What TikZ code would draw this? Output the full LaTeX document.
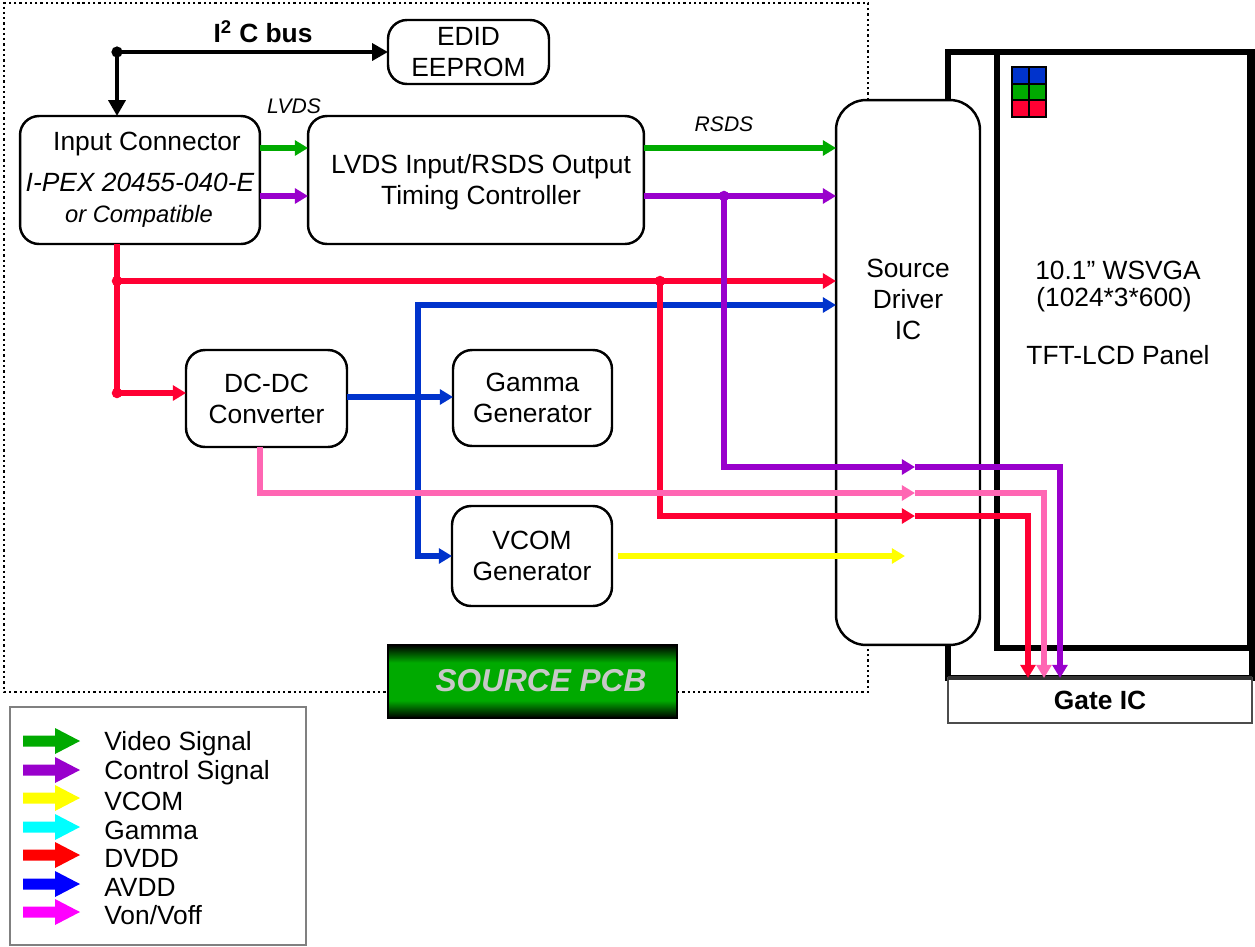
\documentclass[tikz,border=0pt]{standalone}
\usepackage{fontspec}
\setmainfont{Liberation Sans}
\usetikzlibrary{arrows.meta}
\definecolor{cgreen}{RGB}{0,170,0}
\definecolor{cpurple}{RGB}{153,0,204}
\definecolor{cred}{RGB}{255,0,51}
\definecolor{cblue}{RGB}{0,51,204}
\definecolor{cpink}{RGB}{255,102,179}
\definecolor{cyellow}{RGB}{255,255,0}
\definecolor{lgreen}{RGB}{0,170,0}
\definecolor{lpurple}{RGB}{153,0,204}
\definecolor{lyellow}{RGB}{255,255,0}
\definecolor{lcyan}{RGB}{0,255,255}
\definecolor{lred}{RGB}{255,0,0}
\definecolor{lblue}{RGB}{0,0,255}
\definecolor{lmagenta}{RGB}{255,0,255}
\definecolor{pcbgreen}{RGB}{0,170,0}
\definecolor{pcbtext}{RGB}{200,200,200}
\pgfdeclareverticalshading{pcbshade}{100bp}{color(0bp)=(black); color(25bp)=(black); color(37bp)=(pcbgreen); color(63bp)=(pcbgreen); color(75bp)=(black); color(100bp)=(black)}
\newcommand\mainfs{\fontsize{15}{17.6}\selectfont}
\newcommand\smallfs{\fontsize{12}{14}\selectfont}
\tikzset{
  box/.style={draw, line width=1.4pt, rounded corners=0.38cm, fill=white, align=center, font=\mainfs, inner sep=0pt, outer sep=0pt},
  txt/.style={font=\mainfs, align=center, inner sep=0pt},
  wire/.style={line width=3.2pt},
  fatw/.style={line width=3.8pt},
  arr/.style={-{Triangle[length=7.5pt,width=8.5pt]}},
  arrs/.style={{Triangle[length=7.5pt,width=8.5pt]}-{Triangle[length=7.5pt,width=8.5pt]}},
  blk/.style={line width=2.4pt, -{Triangle[length=9pt,width=9.5pt]}},
  dotframe/.style={line width=1.3pt, dash pattern=on 1.3pt off 1.7pt},
  thickframe/.style={line width=2.9pt},
}
\begin{document}
\begin{tikzpicture}[x=0.02cm,y=-0.02cm]
\useasboundingbox (0,0) rectangle (1255,947);
\fill[white] (0,0) rectangle (1255,947);

% dotted source PCB frame
\draw[dotframe] (868,100) -- (868,3) -- (4,3) -- (4,692) -- (388,692);
\draw[dotframe] (677,692) -- (868,692) -- (868,645);

% panel frames
\draw[thickframe] (948,52) rectangle (1252,678);
\draw[thickframe] (997,52) rectangle (1250,648);

% RGB pixel
\fill[cblue] (1012,67) rectangle (1046,84);
\fill[cgreen] (1012,84) rectangle (1046,100);
\fill[cred] (1012,100) rectangle (1046,117);
\draw[line width=1.6pt] (1012,67) rectangle (1046,117) (1029,67) -- (1029,117) (1012,84) -- (1046,84) (1012,100) -- (1046,100);

% panel texts
\node[txt] (p1) at (1118,270) {10.1” WSVGA};
\node[txt] (p2) at (1114,300) {(1024*3*600)};
\node[txt] (p3) at (1118,355) {TFT-LCD Panel};

% gate IC
\node[draw=gray!60!black, line width=1.3pt, fill=white, minimum width=6.08cm, minimum height=0.9cm, inner sep=0pt, outer sep=0pt, font=\mainfs\bfseries] (gate) at (1100,700.5) {Gate IC};
\draw[line width=2.2pt, black!80] (948,678) -- (1252,678);

% source driver
\node[box, rounded corners=0.6cm, minimum width=2.88cm, minimum height=10.9cm] (src) at (908,372.5) {};
\node[txt] (srct) at (908,299) {Source\\Driver\\IC};

% boxes
\node[box, minimum width=3.22cm, minimum height=1.28cm] (edid) at (468.5,52) {EDID\\EEPROM};
\node[box, minimum width=4.8cm, minimum height=2.56cm] (inconn) at (140,180) {};
\node[txt] (ic1) at (147,144) {Input Connector};
\node[txt, font=\mainfs\itshape] (ic2) at (140,182) {I-PEX 20455-040-E};
\node[txt, font=\fontsize{13.5}{16}\selectfont\itshape] (ic3) at (139,216) {or Compatible};
\node[box, minimum width=6.72cm, minimum height=2.56cm] (tcon) at (476,180) {};
\node[txt] (tcont) at (481,182.5) {LVDS Input/RSDS Output\\Timing Controller};
\node[box, minimum width=3.22cm, minimum height=1.94cm] (dcdc) at (266.5,398.5) {DC-DC\\Converter};
\node[box, minimum width=3.18cm, minimum height=1.92cm] (gamma) at (532.5,398) {Gamma\\Generator};
\node[box, minimum width=3.2cm, minimum height=2.0cm] (vcom) at (532,556) {VCOM\\Generator};

% labels
\node[txt, font=\mainfs\bfseries] (i2c) at (263,32) {I\textsuperscript{2} C bus};
\node[txt, font=\smallfs\itshape] (lvds) at (294,106) {LVDS};
\node[txt, font=\smallfs\itshape] (rsds) at (724,124) {RSDS};

% I2C bus
\coordinate (i2cj) at (117,52);
\draw[blk] (i2cj) -- (edid.west);
\draw[blk] (i2cj) -- (inconn.north -| i2cj);
\fill (i2cj) circle[radius=3.2pt];

% blue AVDD
\coordinate (bj) at (418,305);
\draw[wire,arr,cblue] (dcdc.east |- 0,397) -- (gamma.west |- 0,397);
\draw[wire,arrs,cblue] (vcom.west |- 0,556) -- (bj |- 0,556) -- (bj) -- (src.west |- bj);

% red DVDD
\coordinate (rj1) at (117,281);
\coordinate (rj2) at (117,393);
\coordinate (rj3) at (660,281);
\coordinate (re) at (915,516);
\draw[wire,cred] (inconn.south -| rj1) -- (rj2);
\draw[wire,arr,cred] (rj2) -- (dcdc.west |- rj2);
\draw[wire,arr,cred] (rj1) -- (src.west |- rj1);
\draw[wire,arr,cred] (rj3) -- (rj3 |- re) -- (re);
\draw[fatw,arr,cred] (re) -- (1028,516) -- (gate.north -| 1028,0);

% pink Von/Voff
\coordinate (ke) at (915,493);
\draw[wire,arr,cpink] (dcdc.south -| 260,0) -- (260,493) -- (ke);
\draw[fatw,arr,cpink] (ke) -- (1044,493) -- (gate.north -| 1044,0);

% green video
\draw[wire,arr,cgreen] (inconn.east |- 0,148) -- (tcon.west |- 0,148);
\draw[wire,arr,cgreen] (tcon.east |- 0,148) -- (src.west |- 0,148);

% purple control
\coordinate (pj) at (724,196);
\coordinate (pe) at (915,467);
\draw[wire,arr,cpurple] (inconn.east |- 0,196) -- (tcon.west |- 0,196);
\draw[wire,arr,cpurple] (tcon.east |- 0,196) -- (src.west |- 0,196);
\draw[wire,arr,cpurple] (pj) -- (pj |- pe) -- (pe);
\draw[fatw,arr,cpurple] (pe) -- (1060,467) -- (gate.north -| 1060,0);

% yellow VCOM
\coordinate (ye) at (905,556);
\draw[wire,arr,cyellow,shorten <=3.4pt] (vcom.east |- 0,556) -- (ye);

% junction dots
\fill[cred] (rj1) circle[radius=3pt];
\fill[cred] (rj2) circle[radius=3pt];
\fill[cred] (rj3) circle[radius=3pt];
\fill[cpurple] (pj) circle[radius=3pt];

% source PCB label
\node[draw=black, line width=1.6pt, shade, shading=pcbshade, minimum width=5.78cm, minimum height=1.46cm, inner sep=0pt, outer sep=0pt] (pcb) at (532.5,681.5) {};
\node[txt, font=\fontsize{18}{20}\selectfont\bfseries\itshape, text=pcbtext] (pcbt) at (541,681) {SOURCE PCB};

% legend
\node[draw=gray, line width=1pt, minimum width=5.92cm, minimum height=4.76cm, inner sep=0pt, outer sep=0pt] (legend) at (158,826) {};
\foreach \yy/\cc/\lab in {741/lgreen/{Video Signal}, 770/lpurple/{Control Signal}, 798/lyellow/{VCOM}, 827/lcyan/{Gamma}, 855/lred/{DVDD}, 884/lblue/{AVDD}, 912/lmagenta/{Von/Voff}}{
  \fill[\cc] (23,\yy-5.5) -- (55,\yy-5.5) -- (55,\yy-13) -- (80,\yy) -- (55,\yy+13) -- (55,\yy+5.5) -- (23,\yy+5.5) -- cycle;
  \node[txt, anchor=west] (leg\yy) at (104,\yy+3) {\lab};
}
\end{tikzpicture}
\end{document}
